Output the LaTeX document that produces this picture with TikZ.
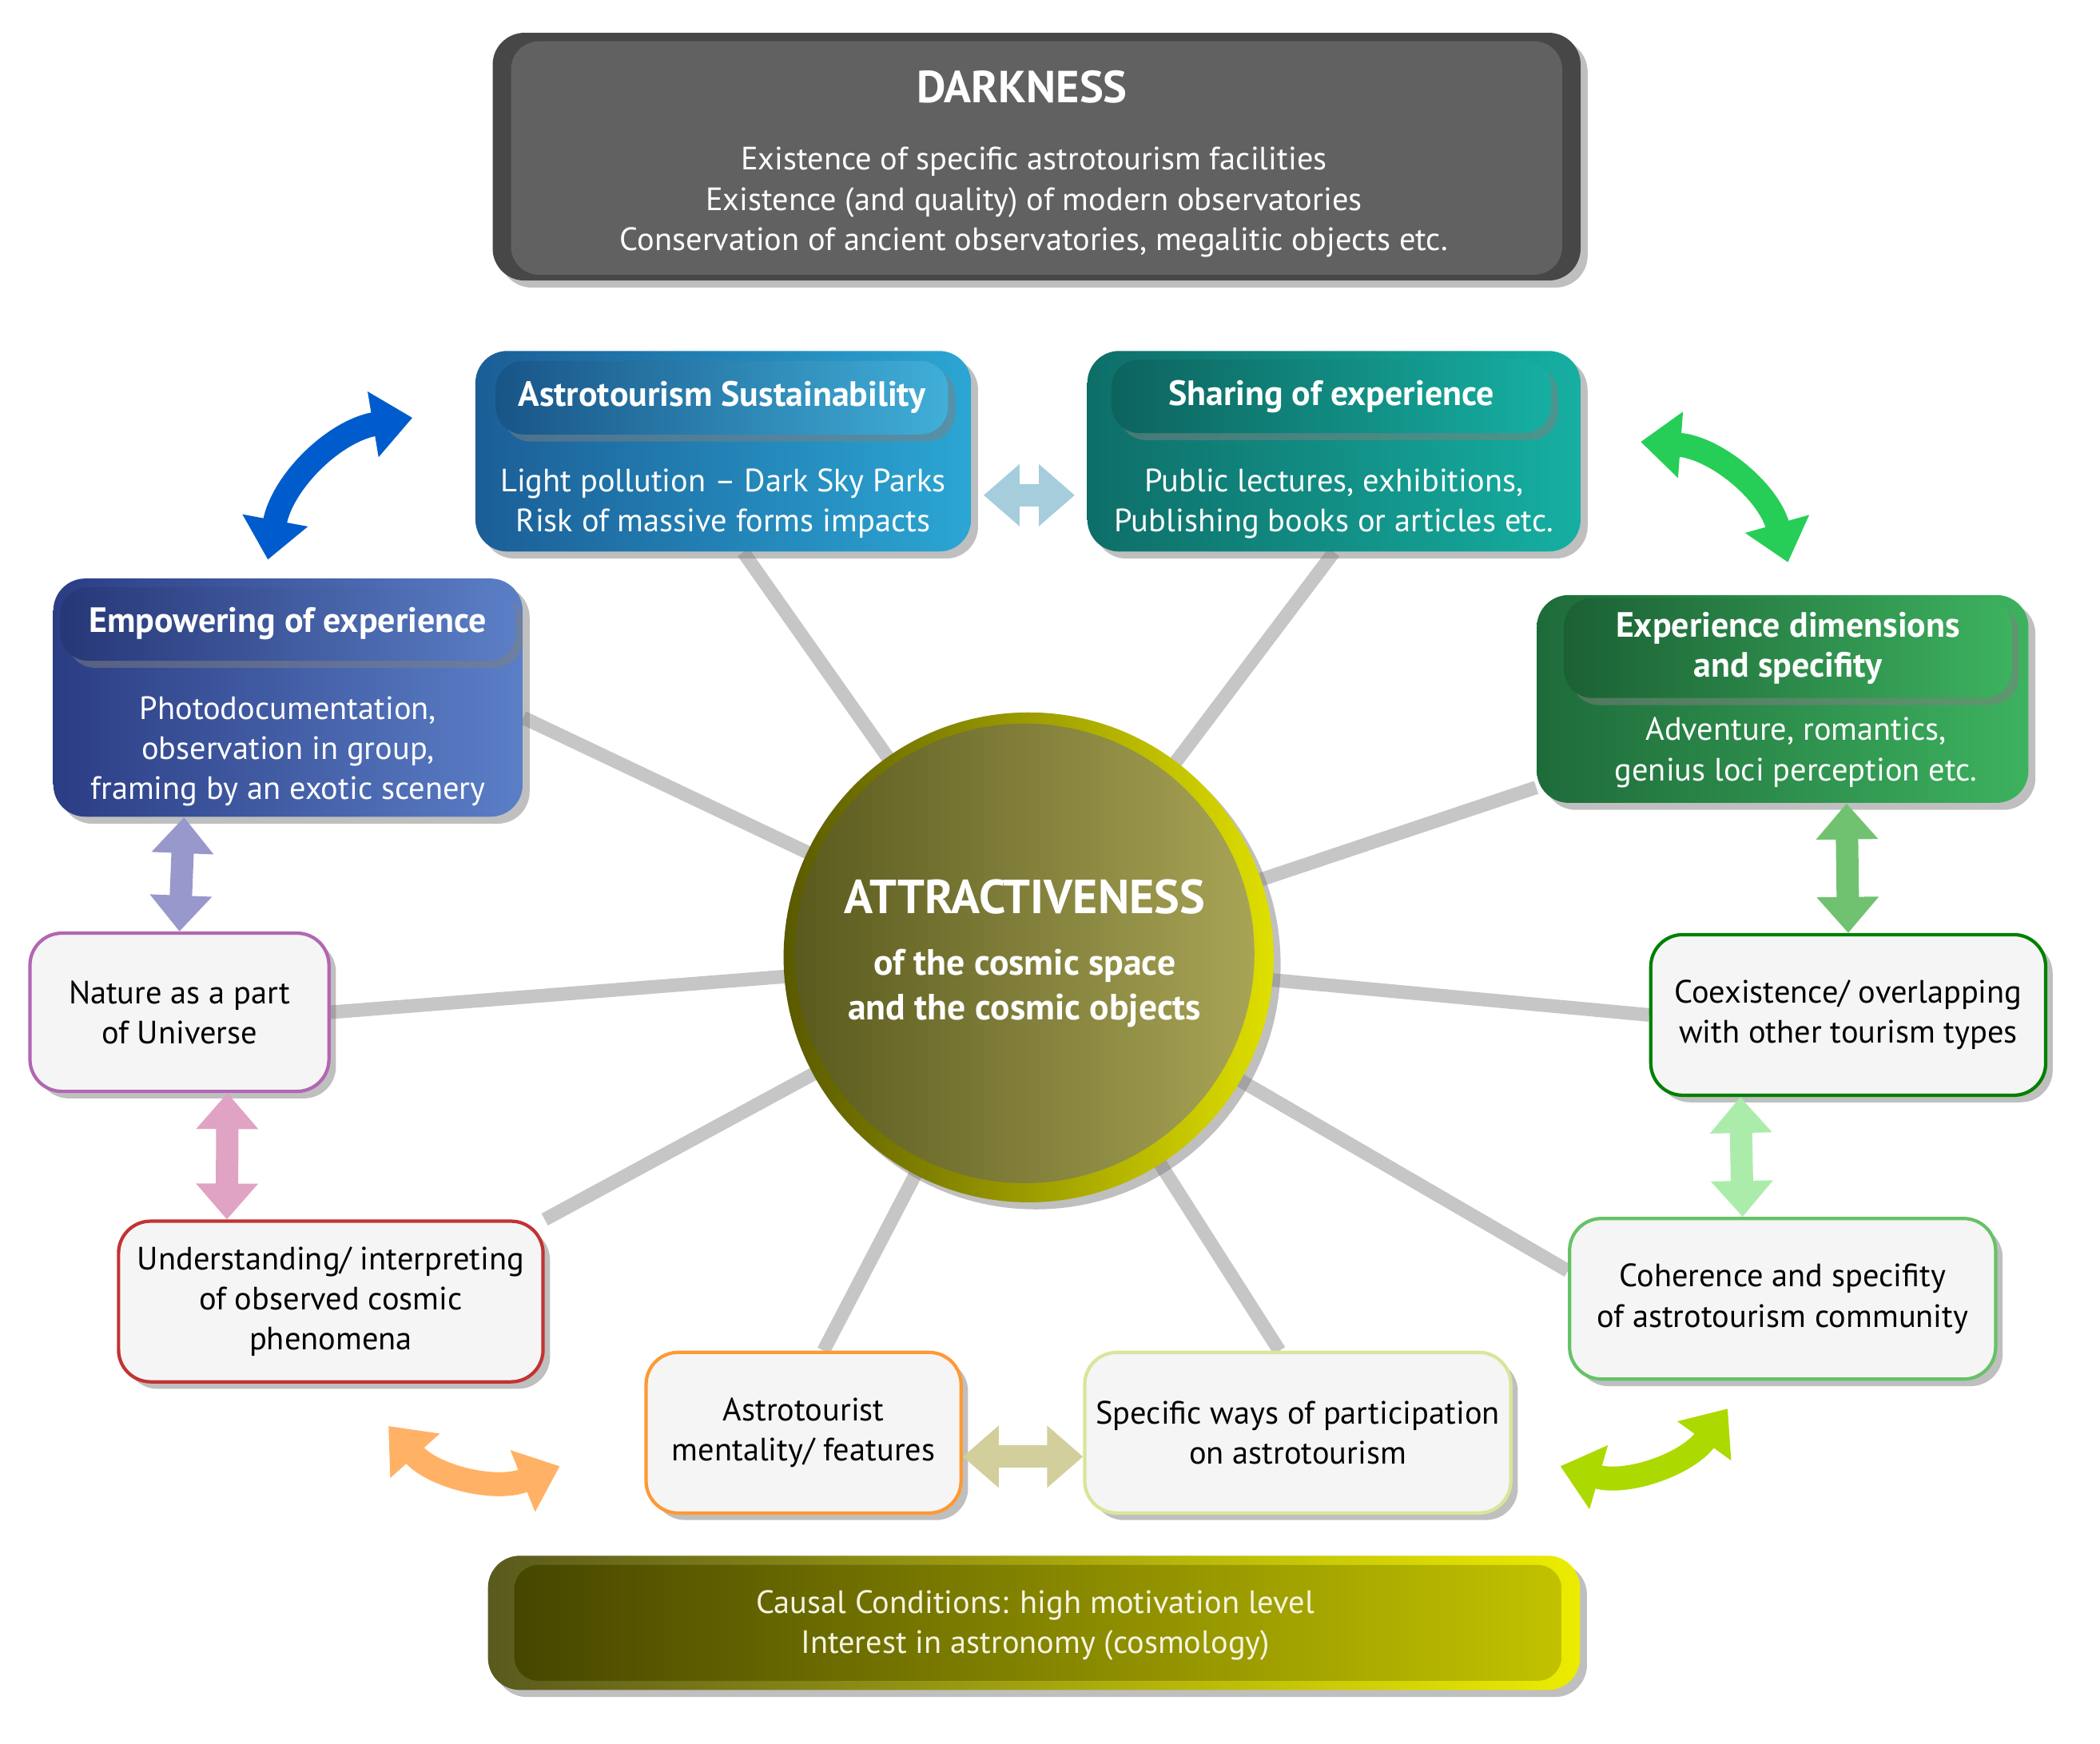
\documentclass[tikz,border=0pt]{standalone}
\usepackage{fontspec}
\setmainfont{PT Sans}
\usetikzlibrary{arrows.meta,shadows,positioning}
\pgfdeclarelayer{bg}
\pgfsetlayers{bg,main}
\definecolor{olivedark}{HTML}{5A5A1E}
\definecolor{olivelight}{HTML}{A8A456}
\definecolor{sustl}{HTML}{1B5E96}
\definecolor{sustr}{HTML}{2BA6D4}
\definecolor{empl}{HTML}{2B3D84}
\definecolor{empr}{HTML}{5B7FC7}
\definecolor{diml}{HTML}{1E6B3A}
\definecolor{dimr}{HTML}{3DB25F}
\definecolor{shl}{HTML}{0E6E68}
\definecolor{shr}{HTML}{16AFA2}
\begin{document}
\begin{tikzpicture}[x=0.01676cm,y=-0.01676cm,
    body/.style={font=\fontsize{11.5}{14.3}\selectfont},
    head/.style={font=\bfseries\fontsize{12.5}{14.3}\selectfont,text=white},
    color box/.style={rounded corners=0.4cm,drop shadow,align=center,inner sep=0pt},
    white box/.style={rounded corners=0.4cm,fill=gray!8,line width=1.2pt,drop shadow,
        align=center,body,minimum height=2.01cm,inner sep=0pt},
    tab/.style={rounded corners=0.35cm,inner sep=0pt,minimum height=0.92cm,align=center,head,drop shadow},
    spoke/.style={line width=0.17cm,gray!45},
    dbl/.style={line width=0.28cm,{Triangle[length=0.45cm,width=0.75cm]}-{Triangle[length=0.45cm,width=0.75cm]}},
    bent/.style={line width=0.3cm,{Triangle[length=0.5cm,width=0.8cm]}-{Triangle[length=0.5cm,width=0.8cm]}}]
  \useasboundingbox (0,0) rectangle (1568,1302);
  % top
  \node[color box,fill=black!72,minimum width=13.61cm,minimum height=3.1cm] (dark) at (774,117) {};
  \node[rounded corners=0.35cm,fill=black!62,minimum width=13.15cm,minimum height=2.92cm] at (774,118) {};
  \node[head,font=\bfseries\fontsize{16}{18}\selectfont] at (763,65) {DARKNESS};
  \node[body,text=white,align=center] at (772,151) {Existence of specific astrotourism facilities\\
    Existence (and quality) of modern observatories\\Conservation of ancient observatories, megalitic objects etc.};
  % coloured boxes
  \node[color box,left color=sustl,right color=sustr,minimum width=6.2cm,minimum height=2.51cm] (sust) at (540,337) {};
  \node[tab,left color=sustl!90!black,right color=sustr!90!white,minimum width=5.66cm] at (539,297) {Astrotourism Sustainability};
  \node[body,text=white,align=center] at (540,376) {Light pollution -- Dark Sky Parks\\Risk of massive forms impacts};
  \node[color box,left color=shl,right color=shr,minimum width=6.17cm,minimum height=2.51cm] (share) at (996,337) {};
  \node[tab,left color=shl!90!black,right color=shr,minimum width=5.5cm] at (994,296) {Sharing of experience};
  \node[body,text=white,align=center] at (996,376) {Public lectures, exhibitions,\\Publishing books or articles etc.};
  \node[color box,left color=diml,right color=dimr,minimum width=6.15cm,minimum height=2.6cm] (dims) at (1331,522) {};
  \node[tab,left color=diml!90!black,right color=dimr,minimum width=5.6cm,minimum height=1.25cm] at (1335,484) {Experience dimensions\\and specifity};
  \node[body,text=white,align=center] at (1341,562) {Adventure, romantics,\\genius loci perception etc.};
  \node[color box,left color=empl,right color=empr,minimum width=5.87cm,minimum height=2.98cm] (empow) at (215,521) {};
  \node[tab,left color=empl!90!black,right color=empr,minimum width=5.7cm] at (215,466) {Empowering of experience};
  \node[body,text=white,align=center] at (215,561) {Photodocumentation,\\observation in group,\\framing by an exotic scenery};
  % white boxes
  \node[white box,draw=violet!60,minimum width=3.74cm,minimum height=1.98cm] (nature) at (134,756) {Nature as a part\\of Universe};
  \node[white box,draw=red!70!black!80,minimum width=5.31cm] (under) at (247,972) {Understanding/ interpreting\\of observed cosmic\\phenomena};
  \node[white box,draw=orange!80,minimum width=3.94cm] (astro) at (600,1070) {Astrotourist\\mentality/ features};
  \node[white box,draw=lime!50!olive!40,minimum width=5.33cm] (spec) at (969,1070) {Specific ways of participation\\on astrotourism};
  \node[white box,draw=green!60!black!60,minimum width=5.33cm] (coher) at (1331,970) {Coherence and specifity\\of astrotourism community};
  \node[white box,draw=green!50!black,minimum width=4.94cm] (coex) at (1380,758) {Coexistence/ overlapping\\with other tourism types};
  % centre
  \node[circle,left color=olive!70!black,right color=yellow!75!olive,minimum size=6.13cm,drop shadow] (c) at (768,715) {};
  \node[circle,left color=olivedark,right color=olivelight,minimum size=5.75cm,align=center,text=white,font=\bfseries] at (765,712)
    {\fontsize{17}{20}\selectfont ATTRACTIVENESS\\[0.35cm]\fontsize{13}{17}\selectfont of the cosmic space\\[4pt]\fontsize{13}{17}\selectfont and the cosmic objects};
  % bottom
  \node[color box,left color=olivedark,right color=yellow!85!olive,minimum width=13.66cm,minimum height=1.68cm] (cause) at (772,1212) {};
  \node[rounded corners=0.3cm,left color=olive!55!black,right color=olive!60!yellow!80,minimum width=13.1cm,minimum height=1.45cm] at (775,1212) {};
  \node[body,text=white!92!olive,align=center] at (773,1214) {Causal Conditions: high motivation level\\Interest in astronomy (cosmology)};
  % spokes
  \begin{pgfonlayer}{bg}
    \draw[spoke] (c.center) -- ([xshift=0.25cm]sust.south);
    \draw[spoke] (c.center) -- (share.south);
    \draw[spoke] (c.center) -- ([yshift=-0.25cm]empow.east);
    \draw[spoke] (c.center) -- ([yshift=0.2cm]dims.south west);
    \draw[spoke] (c.center) -- (nature.east);
    \draw[spoke] (c.center) -- (coex.west);
    \draw[spoke] (c.center) -- (under.north east);
    \draw[spoke] (c.center) -- ([yshift=0.35cm]coher.west);
    \draw[spoke] (c.center) -- ([xshift=0.25cm]astro.north);
    \draw[spoke] (c.center) -- ([xshift=-0.23cm]spec.north);
  \end{pgfonlayer}
  % arrows
  \draw[dbl,cyan!30!teal!40] ([xshift=0.15cm,yshift=-0.55cm]sust.east) -- ([xshift=-0.15cm,yshift=-0.55cm]share.west);
  \draw[dbl,blue!35!gray!60] ([xshift=-1.3cm]empow.south) -- (nature.north);
  \draw[dbl,violet!35!pink!70] ([xshift=0.6cm]nature.south) -- ([xshift=-1.3cm]under.north);
  \draw[dbl,green!40!gray!80] ([xshift=0.8cm]dims.south) -- (coex.north);
  \draw[dbl,green!30!white!85!gray] ([xshift=-1.35cm]coex.south) -- ([xshift=-0.5cm]coher.north);
  \draw[dbl,olive!30!white!85!gray] ([yshift=-0.3cm]astro.east) -- ([yshift=-0.3cm]spec.west);
  \coordinate (bl1) at (200,418); \coordinate (bl2) at (308,312);
  \coordinate (gr1) at (1225,330); \coordinate (gr2) at (1335,420);
  \coordinate (or1) at (290,1065); \coordinate (or2) at (418,1095);
  \coordinate (yg1) at (1165,1095); \coordinate (yg2) at (1290,1052);
  \draw[bent,blue!55!cyan!80!black] (bl1) to[bend left=35] (bl2);
  \draw[bent,green!55!teal!85] (gr1) to[bend left=35] (gr2);
  \draw[bent,orange!60!white] (or1) to[bend right=35] (or2);
  \draw[bent,lime!70!olive] (yg1) to[bend right=35] (yg2);
\end{tikzpicture}
\end{document}
